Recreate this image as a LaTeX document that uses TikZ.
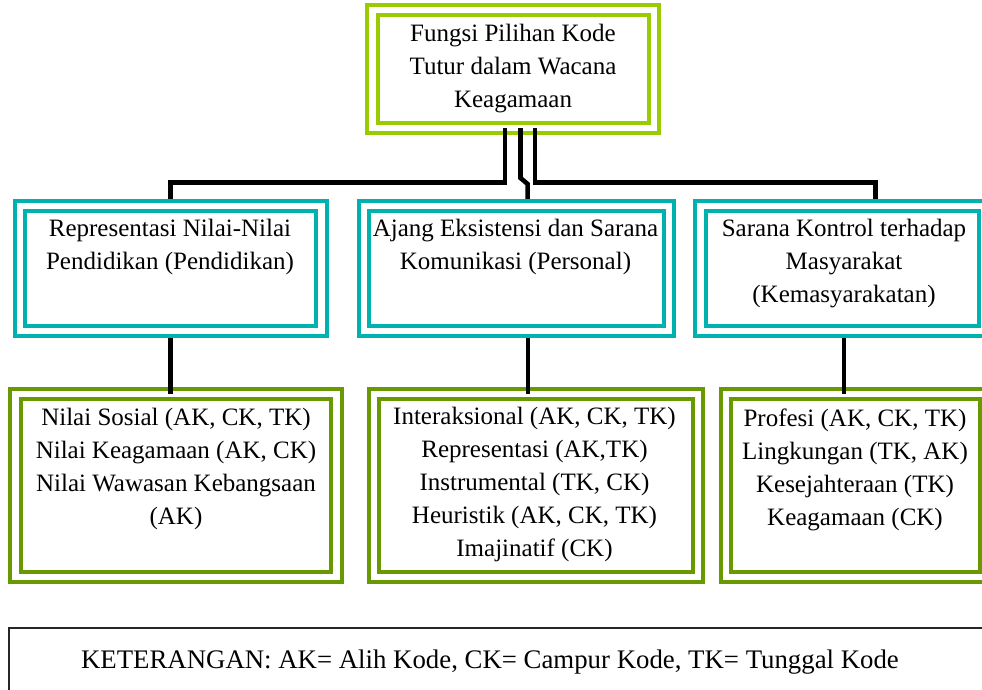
\documentclass[tikz,border=0pt]{standalone}
\usepackage{fontspec}
\setmainfont{Liberation Serif}
\definecolor{topgreen}{RGB}{153,204,0}
\definecolor{boxcyan}{RGB}{0,178,175}
\definecolor{boxolive}{RGB}{104,153,0}
\newcommand\firststrut{\rule{0pt}{17pt}}
\begin{document}
\begin{tikzpicture}[x=1pt,y=-1pt,
  dbl/.style={rectangle, draw=#1, line width=4pt, double=white, double distance=6.5pt, outer sep=0pt, inner sep=0pt},
  conn/.style={draw=black, line width=4.6pt},
  txt/.style={align=center, anchor=north, inner sep=0pt, font=\fontsize{25}{33}\selectfont}]
\useasboundingbox (0,0) rectangle (982,690);
\clip (0,0) rectangle (982,690);
\fill[white] (0,0) rectangle (982,690);

% boxes
\node[dbl=topgreen, minimum width=281.5pt, minimum height=118.25pt] (top) at (513,69.1) {};
\node[dbl=boxcyan, minimum width=301.5pt, minimum height=124.75pt] (cL) at (170.5,268.6) {};
\node[dbl=boxcyan, minimum width=304.75pt, minimum height=124.75pt] (cM) at (516.6,268.6) {};
\node[dbl=boxcyan, minimum width=284.25pt, minimum height=124.75pt] (cR) at (842.4,268.6) {};
\node[dbl=boxolive, minimum width=321.25pt, minimum height=183.25pt] (gL) at (176.1,485.6) {};
\node[dbl=boxolive, minimum width=324pt, minimum height=183.25pt] (gM) at (535.75,485.6) {};
\node[dbl=boxolive, minimum width=259pt, minimum height=183.25pt] (gR) at (855.5,485.6) {};
\node[rectangle, draw=black!85, line width=1.8pt, minimum width=991pt, minimum height=92pt, inner sep=0pt] (legend) at (504.5,674) {};

% texts
\node[txt] (tTop) at (513,24.3) {\firststrut Fungsi Pilihan Kode\\Tutur dalam Wacana\\Keagamaan};
\node[txt] (tcL) at (170,219.3) {\firststrut Representasi Nilai-Nilai\\Pendidikan (Pendidikan)};
\node[txt] (tcM) at (515.5,219.3) {\firststrut Ajang Eksistensi dan Sarana\\Komunikasi (Personal)};
\node[txt] (tcR) at (844,218.5) {\firststrut Sarana Kontrol terhadap\\Masyarakat\\(Kemasyarakatan)};
\node[txt] (tgL) at (176,408.3) {\firststrut Nilai Sosial (AK, CK, TK)\\Nilai Keagamaan (AK, CK)\\Nilai Wawasan Kebangsaan\\(AK)};
\node[txt] (tgM) at (534.5,406.8) {\firststrut Interaksional (AK, CK, TK)\\Representasi (AK,TK)\\Instrumental (TK, CK)\\Heuristik (AK, CK, TK)\\Imajinatif (CK)};
\node[txt] (tgR) at (855,408.3) {\firststrut Profesi (AK, CK, TK)\\Lingkungan (TK, AK)\\Kesejahteraan (TK)\\Keagamaan (CK)};
\node[inner sep=0pt, font=\fontsize{26.8}{30}\selectfont] (tLeg) at (490,662) {KETERANGAN: AK= Alih Kode, CK= Campur Kode, TK= Tunggal Kode};

% upper connectors
\draw[conn] ([xshift=-8pt]top.south) |- ([yshift=23.75pt]cL.north) -- ([yshift=7.25pt]cL.north);
\draw[conn] ([xshift=7.5pt]top.south) -- ([xshift=7.5pt,yshift=-49.75pt]top.south) -- ([xshift=11pt,yshift=22.25pt]cM.north) -- ([xshift=11pt,yshift=7.25pt]cM.north);
\draw[conn] ([xshift=22pt]top.south) |- ([xshift=33pt,yshift=23.75pt]cR.north) -- ([xshift=33pt,yshift=7.25pt]cR.north);

% lower connectors
\coordinate (dL) at (cL.south);
\coordinate (dM) at ([xshift=11.4pt]cM.south);
\coordinate (dR) at ([xshift=1.6pt]cR.south);
\draw[conn] ([yshift=-7.25pt]dL) -- (dL |- gL.north);
\draw[conn] ([yshift=-7.25pt]dM) -- (dM |- gM.north);
\draw[conn] ([yshift=-7.25pt]dR) -- (dR |- gR.north);
\end{tikzpicture}
\end{document}
